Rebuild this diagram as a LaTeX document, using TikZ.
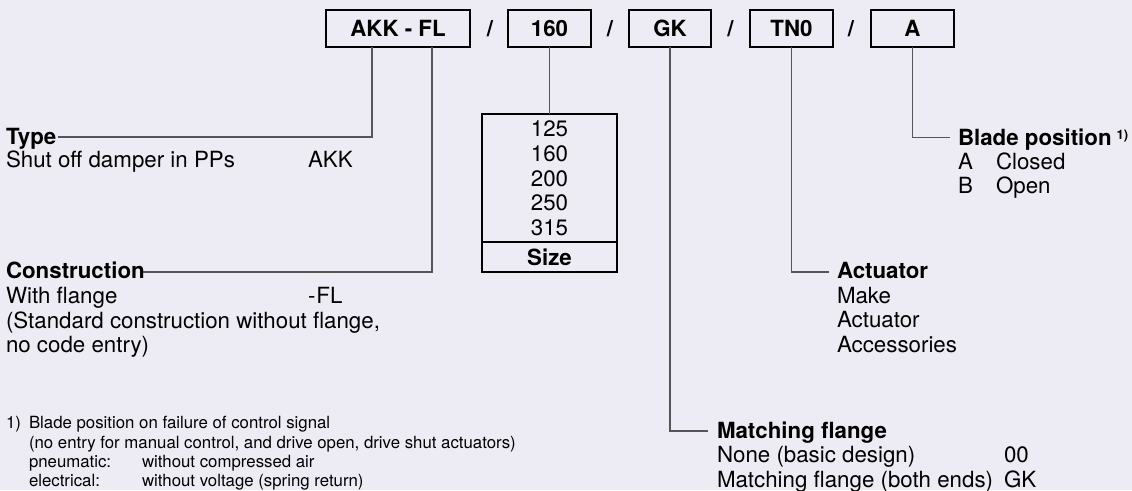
\documentclass[tikz,border=0pt]{standalone}
\usepackage{fontspec}
\setmainfont{TeX Gyre Heros}
\usetikzlibrary{calc}
\definecolor{bg}{RGB}{237,236,245}
\definecolor{ln}{RGB}{85,85,85}
\begin{document}
\begin{tikzpicture}[x=1pt,y=-1pt,
  every node/.style={inner sep=0pt, outer sep=0pt},
  txt/.style={anchor=base west, font=\fontsize{22.3}{24}\selectfont},
  hd/.style={anchor=base west, font=\fontsize{22.3}{24}\selectfont\bfseries},
  ctr/.style={anchor=base, font=\fontsize{22.3}{24}\selectfont},
  fn/.style={anchor=base west, font=\fontsize{16.8}{19}\selectfont},
  codebox/.style={draw=black, line width=1.2pt, minimum height=37pt, text height=16pt, text depth=0pt, anchor=center, font=\fontsize{22.3}{24}\selectfont\bfseries},
  sl/.style={anchor=base, font=\fontsize{22.3}{24}\selectfont\bfseries},
  lead/.style={draw=ln, line width=1.3pt}]
\fill[bg] (0,0) rectangle (1132,490);
\useasboundingbox (0,0) rectangle (1132,490);

% code boxes
\node[codebox, minimum width=144pt] (b1) at (398,28.5) {AKK - FL};
\node[codebox, minimum width=83pt] (b2) at (549.5,28.5) {160};
\node[codebox, minimum width=82pt] (b3) at (670,28.5) {GK};
\node[codebox, minimum width=83pt] (b4) at (791.5,28.5) {TN0};
\node[codebox, minimum width=83pt] (b5) at (912.5,28.5) {A};
\node[sl] (s1) at (490,36.5) {/};
\node[sl] (s2) at (610,36.5) {/};
\node[sl] (s3) at (730.5,36.5) {/};
\node[sl] (s4) at (851,36.5) {/};

% Type
\coordinate (typeend) at (58,137);
\draw[lead] ($(b1.south west)+(46,0)$) |- (typeend);
\node[hd] (type) at (6,144) {Type};
\node[txt] (type1) at (6,167) {Shut off damper in PPs};
\node[txt] (type1c) at (308,167) {AKK};

% Construction
\coordinate (consend) at (143,272);
\draw[lead] ($(b1.south west)+(106,0)$) |- (consend);
\node[hd] (cons) at (6,278) {Construction};
\node[txt] (cons1) at (6,303) {With flange};
\node[txt] (cons1c) at (308,303) {-\kern1pt FL};
\node[txt] (cons2) at (6,328) {(Standard construction without flange,};
\node[txt] (cons3) at (6,352) {no code entry)};

% Size
\node[draw=black, line width=1.2pt, minimum width=135pt, minimum height=158pt, anchor=north] (size) at (549.5,114) {};
\draw[lead] (b2.south) -- (size.north);
\draw[black, line width=2.6pt] (size.west |- 0,242) -- (size.east |- 0,242);
\node[ctr] (s125) at (549.5,136) {125};
\node[ctr] (s160) at (549.5,161) {160};
\node[ctr] (s200) at (549.5,186) {200};
\node[ctr] (s250) at (549.5,210.5) {250};
\node[ctr] (s315) at (549.5,235) {315};
\node[ctr, font=\fontsize{22.3}{24}\selectfont\bfseries] (sizet) at (549.5,265) {Size};

% Blade position
\coordinate (bladeend) at (950,137.5);
\draw[lead] (b5.south) |- (bladeend);
\node[hd] (blade) at (958,145) {Blade position\hspace{5pt}\raisebox{6pt}{\fontsize{13}{13}\selectfont 1)}};
\node[txt] (ba) at (958,169) {A};
\node[txt] (bat) at (996,169) {Closed};
\node[txt] (bb) at (958,193) {B};
\node[txt] (bbt) at (996,193) {Open};

% Actuator
\coordinate (actend) at (829,272);
\draw[lead] (b4.south) |- (actend);
\node[hd] (act) at (837,278) {Actuator};
\node[txt] (act1) at (837,303) {Make};
\node[txt] (act2) at (837,327) {Actuator};
\node[txt] (act3) at (837,352) {Accessories};

% Matching flange
\coordinate (mfend) at (708,431);
\draw[lead] (b3.south) |- (mfend);
\node[hd] (mf) at (717,438) {Matching flange};
\node[txt] (mf1) at (717,462.5) {None (basic design)};
\node[txt] (mf1c) at (1004,462.5) {00};
\node[txt] (mf2) at (717,487) {Matching flange (both ends)};
\node[txt] (mf2c) at (1004,487) {GK};

% footnote
\node[fn] (f0) at (6,428) {1)};
\node[fn] (f1) at (29,428) {Blade position on failure of control signal};
\node[fn] (f2) at (29,448) {(no entry for manual control, and drive open, drive shut actuators)};
\node[fn] (f3) at (29,467) {pneumatic:};
\node[fn] (f3t) at (142,467) {without compressed air};
\node[fn] (f4) at (29,486) {electrical:};
\node[fn] (f4t) at (142,486) {without voltage (spring return)};
\end{tikzpicture}
\end{document}
